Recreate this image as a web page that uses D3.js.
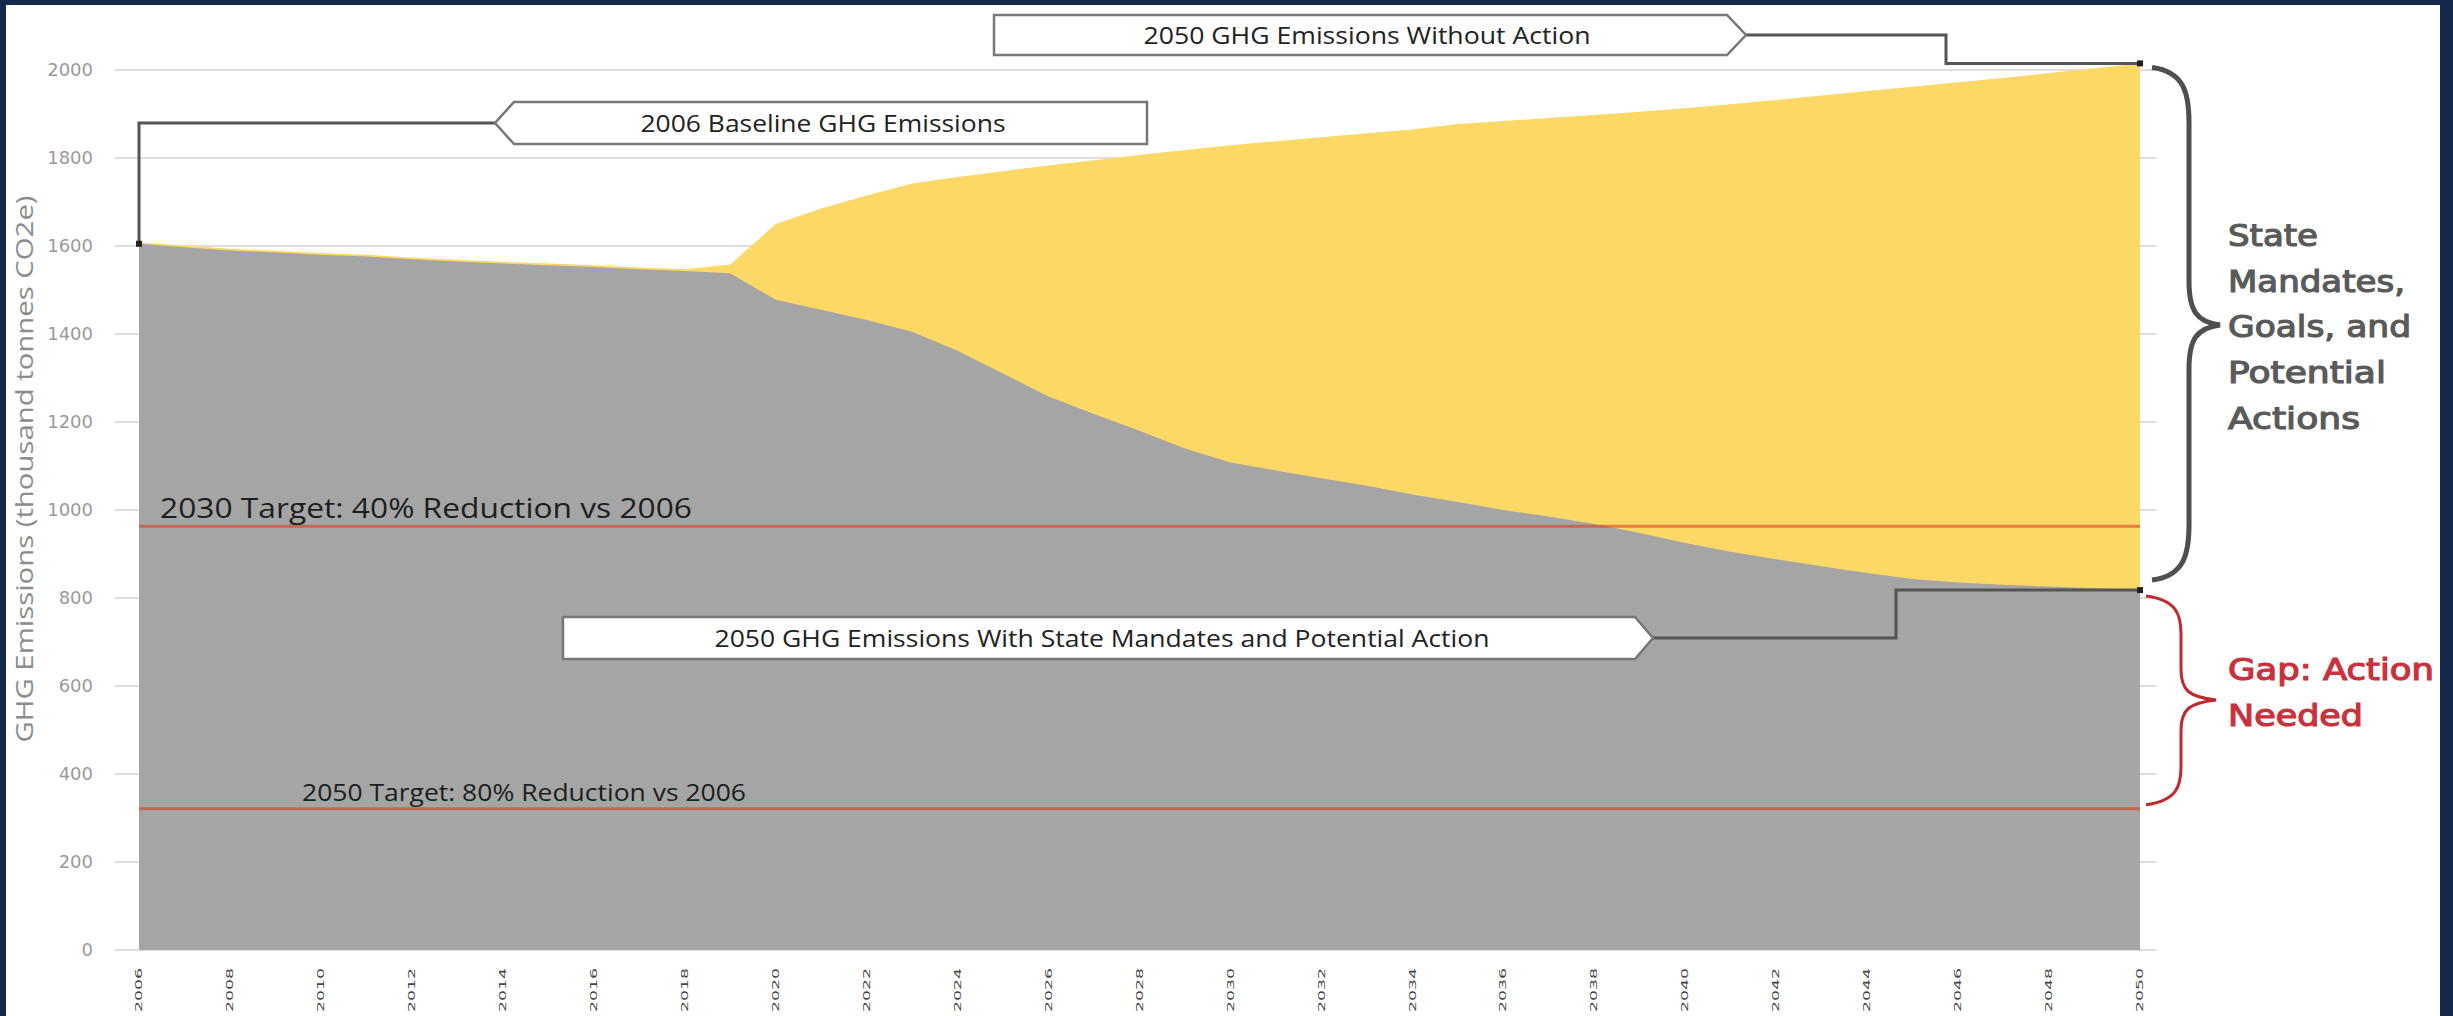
<!DOCTYPE html>
<html><head><meta charset="utf-8">
<script src="https://cdn.jsdelivr.net/npm/d3@7"></script>
<style>html,body{margin:0;padding:0;background:#fff;overflow:hidden}svg{display:block}</style>
</head><body>
<svg id="chart" width="2453" height="1016"></svg>
<script>
// ---------- data ----------
const years = [2006,2007,2008,2009,2010,2011,2012,2013,2014,2015,2016,2017,2018,2019,2020,
  2021,2022,2023,2024,2025,2026,2027,2028,2029,2030,2031,2032,2033,2034,2035,
  2036,2037,2038,2039,2040,2041,2042,2043,2044,2045,2046,2047,2048,2049,2050];
const withoutAction = [1608,1601,1594,1589,1584,1580,1574,1569,1564,1560,1556,1551,1547,1558,1650,
  1685,1715,1742,1757,1770,1783,1795,1807,1818,1829,1838,1847,1856,1865,1877,
  1884,1891,1898,1905,1913,1922,1932,1942,1952,1962,1972,1982,1993,2004,2015];
const withAction = [1605,1597,1590,1585,1580,1576,1570,1565,1560,1556,1552,1547,1543,1538,1478,
  1455,1432,1405,1362,1310,1258,1218,1180,1140,1108,1090,1072,1055,1035,1018,
  1000,985,968,948,925,905,888,872,857,843,835,830,826,822,818];
const yTicks = [0,200,400,600,800,1000,1200,1400,1600,1800,2000];
const xTickLabels = ["2006","2008","2010","2012","2014","2016","2018","2020","2022","2024","2026","2028",
  "2030","2032","2034","2036","2038","2040","2042","2044","2046","2048","2050"];
const targetLabels = ["2030 Target: 40% Reduction vs 2006","2050 Target: 80% Reduction vs 2006"];
const targetValues = [963, 321];
const calloutLabels = ["2050 GHG Emissions Without Action","2006 Baseline GHG Emissions",
  "2050 GHG Emissions With State Mandates and Potential Action"];
const braceTextState = ["State","Mandates,","Goals, and","Potential","Actions"];
const braceTextGap = ["Gap: Action","Needed"];
const yAxisTitle = "GHG Emissions (thousand tonnes CO2e)";

// ---------- setup ----------
const svg = d3.select("#chart");
const W = 2453, H = 1016;
svg.append("rect").attr("width",W).attr("height",H).attr("fill","#15294c");
svg.append("rect").attr("x",6).attr("y",5).attr("width",2434).attr("height",H-5).attr("fill","#fff");

const x = d3.scaleLinear().domain([2006,2050]).range([139,2140]);
const y = d3.scaleLinear().domain([0,2000]).range([950,70]);

// gridlines
svg.append("g").selectAll("line").data(yTicks).join("line")
  .attr("x1",115).attr("x2",2156).attr("y1",d=>y(d)).attr("y2",d=>y(d))
  .attr("stroke","#dedede").attr("stroke-width",2);

// y tick labels
svg.append("g").selectAll("text").data(yTicks).join("text")
  .attr("x",93).attr("y",d=>y(d)).attr("dy","0.36em").attr("text-anchor","end")
  .attr("font-family","DejaVu Sans").attr("font-size",18).attr("fill","#9a9a9a")
  .text(d=>d);

// y axis title
svg.append("text").attr("transform","translate(33,469) rotate(-90)")
  .attr("text-anchor","middle").attr("font-family","Open Sans").attr("font-size",23)
  .attr("fill","#8c8c8c").attr("textLength",547).attr("lengthAdjust","spacingAndGlyphs")
  .text(yAxisTitle);

// x tick labels
svg.append("g").selectAll("text").data(xTickLabels).join("text")
  .attr("transform",d=>`translate(${x(+d)},1012) rotate(-90)`)
  .attr("dy","0.35em").attr("text-anchor","start")
  .attr("font-family","DejaVu Sans").attr("font-size",9).attr("fill","#444")
  .attr("textLength",44).attr("lengthAdjust","spacingAndGlyphs")
  .text(d=>d);

// areas
const rows = years.map((yr,i)=>({yr, wo:withoutAction[i], wa:withAction[i]}));
svg.append("path").datum(rows)
  .attr("d", d3.area().x(d=>x(d.yr)).y0(y(0)).y1(d=>y(d.wo)))
  .attr("fill","#fcd966");
svg.append("path").datum(rows)
  .attr("d", d3.area().x(d=>x(d.yr)).y0(y(0)).y1(d=>y(d.wa)))
  .attr("fill","#a5a5a5");

// target lines
svg.append("g").selectAll("line").data(targetValues).join("line")
  .attr("x1",x(2006)).attr("x2",x(2050)).attr("y1",d=>y(d)).attr("y2",d=>y(d))
  .attr("stroke","#dc3c1e").attr("stroke-opacity",0.6).attr("stroke-width",3);

// target labels
svg.append("text").attr("x",160).attr("y",y(targetValues[0])-8)
  .attr("font-family","Open Sans").attr("font-size",27).attr("fill","#1e1e1e")
  .attr("textLength",532).attr("lengthAdjust","spacingAndGlyphs").text(targetLabels[0]);
svg.append("text").attr("x",302).attr("y",y(targetValues[1])-8)
  .attr("font-family","Open Sans").attr("font-size",23).attr("fill","#1e1e1e")
  .attr("textLength",444).attr("lengthAdjust","spacingAndGlyphs").text(targetLabels[1]);

// ---------- callouts ----------
const lineCol = "#555";
function conn(points){
  svg.append("path").attr("d", d3.line()(points)).attr("fill","none")
    .attr("stroke",lineCol).attr("stroke-width",3);
}
function dot(px,py){
  svg.append("rect").attr("x",px-3).attr("y",py-3).attr("width",6).attr("height",6).attr("fill","#222");
}
function box(pts){
  svg.append("path").attr("d", d3.line()(pts)+"Z").attr("fill","#fff")
    .attr("stroke","#777").attr("stroke-width",2.5);
}
function boxText(t, cx, by, len){
  svg.append("text").attr("x",cx).attr("y",by).attr("text-anchor","middle")
    .attr("font-family","Open Sans").attr("font-size",24).attr("fill","#222")
    .attr("textLength",len).attr("lengthAdjust","spacingAndGlyphs").text(t);
}
// Without action (2050 top)
const topEnd = y(withoutAction[withoutAction.length-1]);
conn([[1746,35],[1946,35],[1946,topEnd],[x(2050),topEnd]]);
box([[994,15],[1727,15],[1746,35],[1727,55],[994,55]]);
boxText(calloutLabels[0], 1367, 44, 447);
dot(x(2050), topEnd);

// Baseline 2006
const baseY = y(withAction[0]);
conn([[496,123],[x(2006),123],[x(2006),baseY]]);
box([[514,102],[1147,102],[1147,144],[514,144],[495,123]]);
boxText(calloutLabels[1], 823, 132, 365);
dot(x(2006), baseY);

// With action (2050 bottom)
const botEnd = y(withAction[withAction.length-1]);
conn([[1652,638],[1896,638],[1896,botEnd],[x(2050),botEnd]]);
box([[563,617],[1635,617],[1653,638],[1635,659],[563,659]]);
boxText(calloutLabels[2], 1102, 647, 775);
dot(x(2050), botEnd);

// ---------- braces ----------
function brace(x0, yTop, yBot, xs, xt, ym, r){
  return `M${x0},${yTop} C${xs-4},${yTop+4} ${xs},${yTop+r*0.5} ${xs},${yTop+r} L${xs},${ym-r*0.8}
   C${xs},${ym-r*0.25} ${xs+8},${ym-3} ${xt},${ym} C${xs+8},${ym+3} ${xs},${ym+r*0.25} ${xs},${ym+r*0.8}
   L${xs},${yBot-r} C${xs},${yBot-r*0.5} ${xs-4},${yBot-4} ${x0},${yBot}`;
}
svg.append("path").attr("d",brace(2152,y(withoutAction[44])+4,y(withAction[44])-10,2189,2220,325,55))
  .attr("fill","none").attr("stroke","#4f4f4f").attr("stroke-width",5);
svg.append("path").attr("d",brace(2146,y(withAction[44])+6,y(targetValues[1])-4,2181,2216,700,38))
  .attr("fill","none").attr("stroke","#c0282f").attr("stroke-width",3);

const stateLens = [90,177,183,158,132];
svg.append("g").selectAll("text").data(braceTextState).join("text")
  .attr("x",2228).attr("y",(d,i)=>246+i*45.7)
  .attr("font-family","DejaVu Sans").attr("font-size",30)
  .attr("fill","#5a5a5a").attr("stroke","#5a5a5a").attr("stroke-width",1.2)
  .attr("textLength",(d,i)=>stateLens[i]).attr("lengthAdjust","spacingAndGlyphs")
  .text(d=>d);
const gapLens = [206,135];
svg.append("g").selectAll("text").data(braceTextGap).join("text")
  .attr("x",2228).attr("y",(d,i)=>680+i*46)
  .attr("font-family","DejaVu Sans").attr("font-size",30)
  .attr("fill","#c9323c").attr("stroke","#c9323c").attr("stroke-width",1.2)
  .attr("textLength",(d,i)=>gapLens[i]).attr("lengthAdjust","spacingAndGlyphs")
  .text(d=>d);
</script>
</body></html>
